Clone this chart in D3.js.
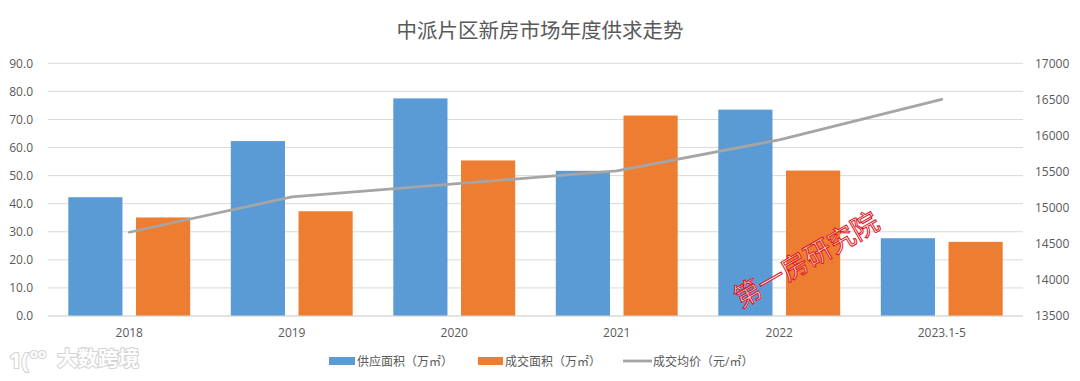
<!DOCTYPE html>
<html>
<head>
<meta charset="utf-8">
<script src="https://cdn.jsdelivr.net/npm/d3@7"></script>
<style>
  html, body { margin: 0; padding: 0; background: #fff; }
  svg { display: block; }
  text { font-family: "Open Sans", "Noto Sans CJK SC", sans-serif; }
</style>
</head>
<body>
<script>
const categories = ["2018", "2019", "2020", "2021", "2022", "2023.1-5"];
const supplyArea = [42.3, 62.3, 77.5, 51.7, 73.5, 27.7];
const dealArea = [35.1, 37.3, 55.4, 71.4, 51.8, 26.4];
const avgPrice = [14660, 15150, 15330, 15510, 15940, 16500];
const leftTicks = [0, 10, 20, 30, 40, 50, 60, 70, 80, 90];
const rightTicks = [13500, 14000, 14500, 15000, 15500, 16000, 16500, 17000];
const seriesNames = ["供应面积（万㎡）", "成交面积（万㎡）", "成交均价（元/㎡）"];
const title = "中派片区新房市场年度供求走势";

const W = 1080, H = 381;
const margin = { left: 48, right: 57, top: 63, bottom: 65 };
const x0 = margin.left, x1 = W - margin.right;
const yTop = 63.3, yBot = 316;

const svg = d3.select("body").append("svg").attr("width", W).attr("height", H);
const cjk = '"Noto Sans CJK SC", sans-serif';
const grey = "#595959";

const x = d3.scaleBand().domain(categories).range([x0, x1]).paddingInner(0).paddingOuter(0);
const xs = d3.scaleBand().domain(["s", "d"]).range([0, x.bandwidth()]).paddingOuter(0.3).paddingInner(0.2);
const yL = d3.scaleLinear().domain([0, 90]).range([yBot, yTop]);
const yR = d3.scaleLinear().domain([13500, 17000]).range([yBot, yTop]);

// gridlines
svg.append("g").selectAll("line").data(leftTicks).join("line")
  .attr("x1", x0).attr("x2", x1)
  .attr("y1", d => yL(d)).attr("y2", d => yL(d))
  .attr("stroke", "#d9d9d9").attr("stroke-width", 1);

// left axis labels
const axL = svg.append("g").attr("transform", `translate(${x0 - 15},0)`)
  .call(d3.axisLeft(yL).tickValues(leftTicks).tickFormat(d3.format(".1f")).tickSize(0).tickPadding(0));
axL.select(".domain").remove();
axL.selectAll("text").attr("font-size", 12).attr("fill", grey).attr("font-family", '"Open Sans", sans-serif');

// right axis labels
const axR = svg.append("g").attr("transform", `translate(${x1 + 12},0)`)
  .call(d3.axisRight(yR).tickValues(rightTicks).tickFormat(d3.format("d")).tickSize(0).tickPadding(0));
axR.select(".domain").remove();
axR.selectAll("text").attr("font-size", 12).attr("fill", grey).attr("font-family", '"Open Sans", sans-serif');

// bars
const colors = { s: "#5b9bd5", d: "#ed7d31" };
const g = svg.append("g");
g.selectAll("rect.s").data(supplyArea).join("rect").attr("class", "s")
  .attr("x", (d, i) => x(categories[i]) + xs("s"))
  .attr("width", xs.bandwidth())
  .attr("y", d => yL(d)).attr("height", d => yBot - yL(d))
  .attr("fill", colors.s);
g.selectAll("rect.d").data(dealArea).join("rect").attr("class", "d")
  .attr("x", (d, i) => x(categories[i]) + xs("d"))
  .attr("width", xs.bandwidth())
  .attr("y", d => yL(d)).attr("height", d => yBot - yL(d))
  .attr("fill", colors.d);

// baseline
svg.append("line").attr("x1", x0).attr("x2", x1).attr("y1", yBot).attr("y2", yBot)
  .attr("stroke", "#d9d9d9");

// line
const line = d3.line()
  .x((d, i) => x(categories[i]) + x.bandwidth() / 2)
  .y(d => yR(d))
  .curve(d3.curveLinear);
svg.append("path").datum(avgPrice).attr("d", line)
  .attr("fill", "none").attr("stroke", "#a5a5a5").attr("stroke-width", 2.8)
  .attr("stroke-linecap", "round").attr("stroke-linejoin", "round");

// x labels
const axX = svg.append("g").attr("transform", `translate(0,${yBot + 12})`)
  .call(d3.axisBottom(x).tickSize(0).tickPadding(0));
axX.select(".domain").remove();
axX.selectAll("text").attr("font-size", 12).attr("fill", grey).attr("font-family", '"Open Sans", sans-serif');

// title
svg.append("text").attr("x", 540).attr("y", 38).attr("text-anchor", "middle")
  .attr("font-size", 20.5).attr("fill", grey).attr("font-family", cjk).text(title);

// legend
const leg = svg.append("g").attr("font-family", cjk).attr("font-size", 12).attr("fill", grey);
const legX = [329, 478, 623];
leg.append("rect").attr("x", legX[0]).attr("y", 357).attr("width", 26).attr("height", 8).attr("fill", colors.s);
leg.append("rect").attr("x", legX[1]).attr("y", 357).attr("width", 25).attr("height", 8).attr("fill", colors.d);
leg.append("line").attr("x1", legX[2]).attr("x2", legX[2] + 29).attr("y1", 361).attr("y2", 361)
  .attr("stroke", "#a5a5a5").attr("stroke-width", 2.8);
[357, 505, 653].forEach((lx, i) => {
  leg.append("text").attr("x", lx).attr("y", 365.5).attr("fill", grey).text(seriesNames[i]);
});

// red watermark
svg.append("text").attr("transform", "translate(806,259) rotate(-30)")
  .attr("text-anchor", "middle").attr("dominant-baseline", "central")
  .attr("font-family", cjk).attr("font-size", 27)
  .attr("fill", "#ffffff").attr("fill-opacity", 0.8)
  .attr("stroke", "#e0141e").attr("stroke-width", 1)
  .text("第一房研究院");

// bottom-left watermark
const wm = svg.append("g").attr("fill", "#ffffff").attr("stroke", "#d4d4d4")
  .attr("stroke-width", 2.2).attr("paint-order", "stroke").attr("stroke-linejoin", "round");
wm.append("text").attr("x", 9).attr("y", 368).attr("font-family", '"Open Sans", sans-serif')
  .attr("font-size", 22).attr("font-weight", "bold").text("1(");
wm.append("text").attr("x", 30).attr("y", 358).attr("font-family", '"Open Sans", sans-serif')
  .attr("font-size", 13).attr("font-weight", "bold").text("oo");
wm.append("text").attr("x", 57).attr("y", 366).attr("font-family", cjk)
  .attr("font-size", 20.5).attr("font-weight", "bold").text("大数跨境");
</script>
</body>
</html>
